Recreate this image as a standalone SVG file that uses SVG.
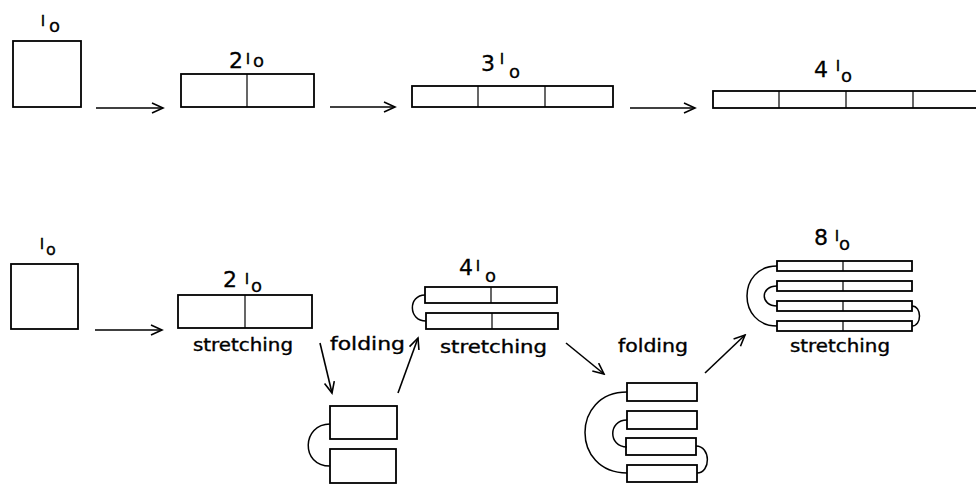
<svg xmlns="http://www.w3.org/2000/svg" width="976" height="485" viewBox="0 0 976 485">
<style>
.b{fill:#fff;stroke:#000;stroke-width:1.8}
.d{stroke:#000;stroke-width:1.2}
.c{fill:none;stroke:#000;stroke-width:1.5}
.a{fill:none;stroke:#000;stroke-width:1.6}
.t{font-family:"DejaVu Sans",sans-serif;font-size:17px;fill:#000;stroke:#000;stroke-width:0.35}
.n{font-family:"DejaVu Sans",sans-serif;font-size:22px;fill:#000;stroke:#000;stroke-width:0.3}
.l{font-size:14px;stroke-width:0.6}
.o{font-size:18px}
</style>
<defs>
<marker id="ah" markerWidth="14" markerHeight="14" refX="12" refY="6" orient="auto" markerUnits="userSpaceOnUse">
<path d="M1,1 L12,6 L1,11" fill="none" stroke="#000" stroke-width="1.6"/>
</marker>
</defs>
<rect width="976" height="485" fill="#fff"/>

<g id="top-l0">
<rect class="b" x="13" y="41" width="68" height="66"/>
<text class="n"><tspan class="l" x="41" y="25.5">l</tspan><tspan class="o" x="49" y="32">o</tspan></text>
</g>
<g id="top-2l0">
<rect class="b" x="181" y="74" width="133" height="33"/>
<line class="d" x1="247" y1="74" x2="247" y2="107"/>
<text class="n"><tspan x="236" y="68" text-anchor="middle">2</tspan><tspan class="l" x="246" y="63.5">l</tspan><tspan class="o" x="253" y="67">o</tspan></text>
</g>
<g id="top-3l0">
<rect class="b" x="412" y="86" width="201" height="21"/>
<line class="d" x1="478" y1="86" x2="478" y2="107"/>
<line class="d" x1="545" y1="86" x2="545" y2="107"/>
<text class="n"><tspan x="488" y="71" text-anchor="middle">3</tspan><tspan class="l" x="500" y="63.5">l</tspan><tspan class="o" x="509" y="78">o</tspan></text>
</g>
<g id="top-4l0">
<rect class="b" x="713" y="91" width="272" height="17"/>
<line class="d" x1="779" y1="91" x2="779" y2="108"/>
<line class="d" x1="846" y1="91" x2="846" y2="108"/>
<line class="d" x1="913" y1="91" x2="913" y2="108"/>
<text class="n"><tspan x="821" y="77" text-anchor="middle">4</tspan><tspan class="l" x="836" y="70.5">l</tspan><tspan class="o" x="841" y="82">o</tspan></text>
</g>

<g id="bot-l0">
<rect class="b" x="11" y="264" width="67" height="65"/>
<text class="n"><tspan class="l" x="40" y="248.5">l</tspan><tspan class="o" x="46" y="255" style="font-size:16px">o</tspan></text>
</g>
<g id="bot-2l0">
<rect class="b" x="178" y="295" width="134" height="33"/>
<line class="d" x1="245" y1="295" x2="245" y2="328"/>
<text class="n"><tspan x="230" y="287" text-anchor="middle">2</tspan><tspan class="l" x="245" y="283.5">l</tspan><tspan class="o" x="251" y="292">o</tspan></text>
<text class="t" x="193" y="351" textLength="100" lengthAdjust="spacingAndGlyphs">stretching</text>
</g>
<g id="fold-2">
<rect class="b" x="330" y="406" width="67" height="33"/>
<rect class="b" x="330" y="449" width="66" height="34"/>
<path class="c" d="M330,424 C302,424 300,466 330,466"/>
</g>
<g id="bot-4l0">
<rect class="b" x="425" y="287" width="132" height="16"/>
<line class="d" x1="491" y1="287" x2="491" y2="303"/>
<rect class="b" x="426" y="313" width="132" height="16"/>
<line class="d" x1="492" y1="313" x2="492" y2="329"/>
<path class="c" d="M425,295 C408,295 408,321 426,321"/>
<text class="n"><tspan x="466" y="275" text-anchor="middle">4</tspan><tspan class="l" x="476" y="270.5">l</tspan><tspan class="o" x="485" y="282">o</tspan></text>
<text class="t" x="440" y="353" textLength="107" lengthAdjust="spacingAndGlyphs">stretching</text>
</g>
<g id="fold-4">
<rect class="b" x="627" y="383" width="70" height="18"/>
<rect class="b" x="627" y="411" width="70" height="18"/>
<rect class="b" x="626" y="438" width="70" height="17"/>
<rect class="b" x="627" y="465" width="70" height="17"/>
<path class="c" d="M627,392 C571,392 571,473 627,473"/>
<path class="c" d="M627,420 C608,420 608,447 627,447"/>
<path class="c" d="M696,446 C711,446 711,473 697,473"/>
</g>
<g id="bot-8l0">
<rect class="b" x="777" y="261" width="135" height="10"/>
<rect class="b" x="777" y="281" width="135" height="10"/>
<rect class="b" x="777" y="301" width="135" height="10"/>
<rect class="b" x="777" y="321" width="135" height="10"/>
<line class="d" x1="843" y1="261" x2="843" y2="271"/>
<line class="d" x1="843" y1="281" x2="843" y2="291"/>
<line class="d" x1="843" y1="301" x2="843" y2="311"/>
<line class="d" x1="843" y1="321" x2="843" y2="331"/>
<path class="c" d="M777,266 C737,266 737,326 777,326"/>
<path class="c" d="M777,286 C760,286 760,306 777,306"/>
<path class="c" d="M912,306 C922,306 922,326 912,326"/>
<text class="n"><tspan x="821" y="245" text-anchor="middle">8</tspan><tspan class="l" x="835" y="240.5">l</tspan><tspan class="o" x="839" y="250">o</tspan></text>
<text class="t" x="790" y="352" textLength="100" lengthAdjust="spacingAndGlyphs">stretching</text>
</g>

<g id="connectors">
<line class="a" x1="96" y1="108" x2="163" y2="108" marker-end="url(#ah)"/>
<line class="a" x1="330" y1="107" x2="395" y2="107" marker-end="url(#ah)"/>
<line class="a" x1="630" y1="108" x2="695" y2="108" marker-end="url(#ah)"/>
<line class="a" x1="95" y1="330" x2="162" y2="330" marker-end="url(#ah)"/>
<line class="a" x1="320" y1="343" x2="332" y2="393" marker-end="url(#ah)"/>
<line class="a" x1="398" y1="393" x2="418" y2="338" marker-end="url(#ah)"/>
<line class="a" x1="566" y1="343" x2="604" y2="374" marker-end="url(#ah)"/>
<line class="a" x1="705" y1="373" x2="745" y2="335" marker-end="url(#ah)"/>
<text class="t" x="330" y="350" textLength="75" lengthAdjust="spacingAndGlyphs">folding</text>
<text class="t" x="618" y="352" textLength="70" lengthAdjust="spacingAndGlyphs">folding</text>
</g>
</svg>
